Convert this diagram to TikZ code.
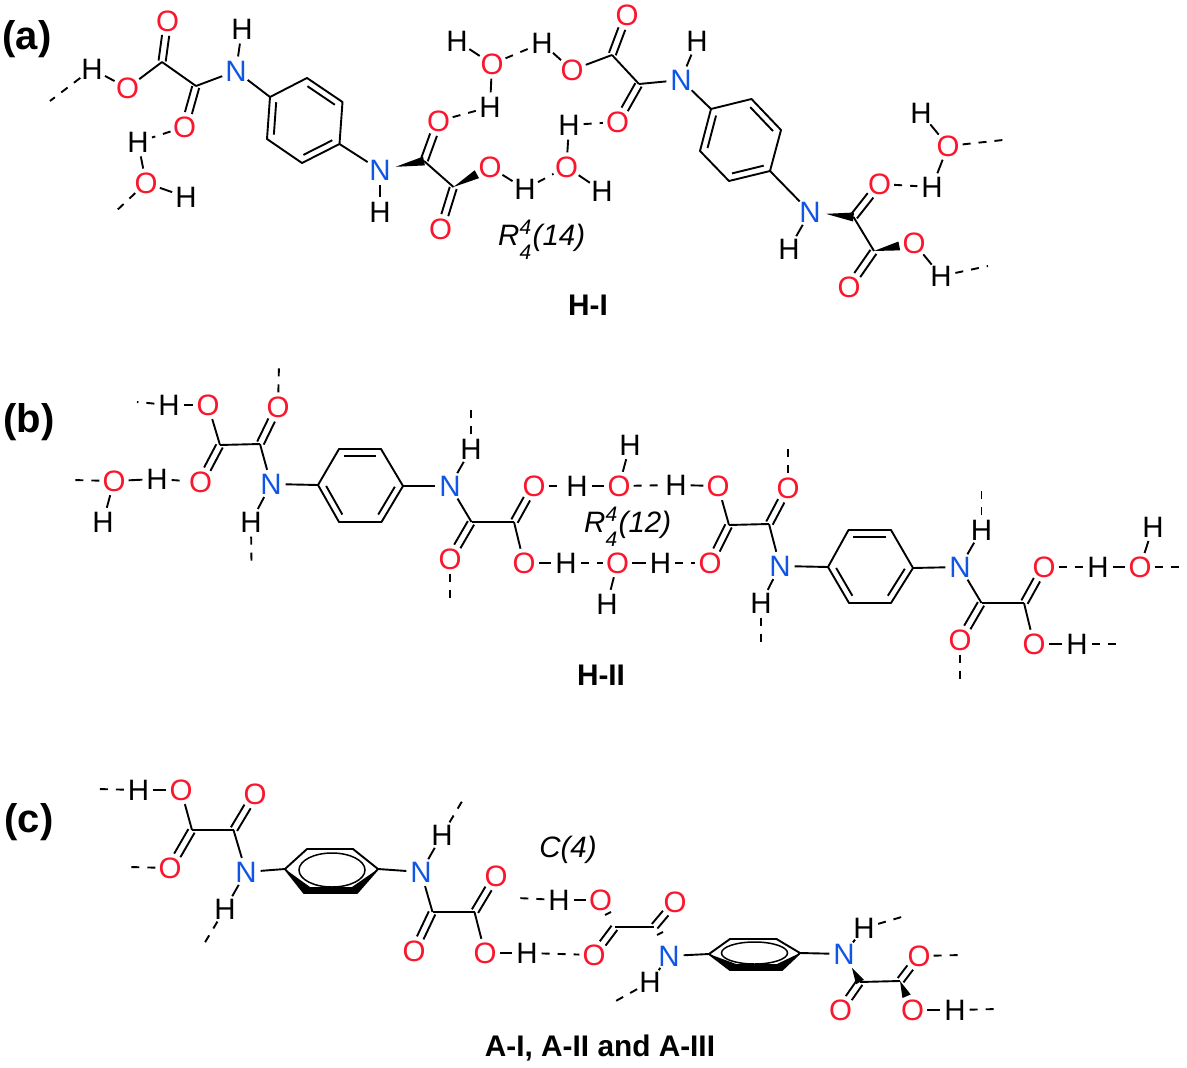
\documentclass[tikz,border=0pt]{standalone}
\usepackage{fontspec}
\setmainfont{Liberation Sans}
\usetikzlibrary{calc}
\definecolor{oxy}{HTML}{FA162D}
\definecolor{nit}{HTML}{0F55E6}
\tikzset{
  atom/.style={circle,inner sep=0pt,minimum size=29pt,text height=21pt,text depth=0pt,font=\fontsize{29.5}{29.5}\selectfont},
  atomO/.style={atom,text=oxy},
  atomN/.style={atom,text=nit},
  atomH/.style={atom,text=black},
  bond/.style={draw=black,line width=1.9pt,line join=round},
  hbond/.style={draw=black,line width=1.9pt,dash pattern=on 8pt off 8pt},
  panel/.style={font=\fontsize{40}{40}\selectfont\bfseries,inner sep=0pt},
  formname/.style={font=\fontsize{29.8}{30}\selectfont\bfseries,inner sep=0pt},
  motif/.style={font=\fontsize{29.5}{30}\selectfont\itshape,inner sep=0pt}
}
\newcommand{\atO}[2]{\node[atomO] (#1) at (#2) {\makebox[0pt]{O}};}
\newcommand{\atH}[2]{\node[atomH] (#1) at (#2) {\makebox[0pt]{H}};}
\newcommand{\atN}[2]{\node[atomN] (#1) at (#2) {\makebox[0pt]{N}};}
\newcommand{\ptc}[2]{\coordinate (#1) at (#2);}
\newcommand{\bd}[2]{\draw[bond] (#1) -- (#2);}
\newcommand{\hbd}[2]{\draw[hbond] (#1) -- (#2);}
\newcommand{\dbl}[2]{%
  \draw[bond,shorten >=14.5pt,shorten <=1pt] ($(#1)!3.6pt!90:(#2)$) -- ($(#2)!3.6pt!-90:(#1)$);
  \draw[bond,shorten >=14.5pt,shorten <=1pt] ($(#1)!3.6pt!-90:(#2)$) -- ($(#2)!3.6pt!90:(#1)$);}
\newcommand{\wdg}[4]{%
  \coordinate (wa) at ($(#1)!#3!(#2)$);
  \coordinate (wb) at ($(#2)!#4!(#1)$);
  \fill[black] (wa) -- ($(wb)!4.5pt!90:(wa)$) -- ($(wb)!4.5pt!-90:(wa)$) -- cycle;}
\newcommand{\benz}[7]{%
  \coordinate (#1a) at (#2);\coordinate (#1b) at (#3);\coordinate (#1c) at (#4);
  \coordinate (#1d) at (#5);\coordinate (#1e) at (#6);\coordinate (#1f) at (#7);
  \coordinate (#1m) at ($(#1a)!0.5!(#1d)$);
  \draw[bond] (#1a) -- (#1b) -- (#1c) -- (#1d) -- (#1e) -- (#1f) -- cycle;
  \draw[bond,shorten >=1pt,shorten <=1pt] ($(#1m)!0.82!(#1b)$) -- ($(#1m)!0.82!(#1c)$);
  \draw[bond,shorten >=1pt,shorten <=1pt] ($(#1m)!0.82!(#1d)$) -- ($(#1m)!0.82!(#1e)$);
  \draw[bond,shorten >=1pt,shorten <=1pt] ($(#1m)!0.82!(#1f)$) -- ($(#1m)!0.82!(#1a)$);}
\newcommand{\flatring}[9]{%
  \coordinate (#1a) at (#2);\coordinate (#1b) at (#3);\coordinate (#1c) at (#4);
  \coordinate (#1d) at (#5);\coordinate (#1e) at (#6);\coordinate (#1f) at (#7);
  \fill[black] (#1a) -- (#1f) -- (#1e) -- (#1d) -- ($(#1e)+(-5,-6)$) -- ($(#1f)+(6,-6)$) -- cycle;
  \draw[bond] (#1a) -- (#1b) -- (#1c) -- (#1d) -- (#1e) -- (#1f) -- cycle;
  \draw[black,line width=1.5pt,fill=white] (#8) ellipse [x radius=33pt,y radius=#9];}
\newcommand{\scrp}[1]{\fontsize{21}{21}\selectfont #1}
\newcommand{\motifR}[1]{R\rlap{\raisebox{11pt}{\scrp{4}}}\raisebox{-14pt}{\scrp{4}}\kern1.5pt #1}
\begin{document}
\begin{tikzpicture}[x=1pt,y=-1pt]
\useasboundingbox (0,0) rectangle (1187,1068);
% ---------- panel a
\node[panel] (la) at (27,39) {(a)};
\ptc{af1}{50,101}\ptc{af2}{113,214}\ptc{af3}{1003,140}\ptc{af4}{988,266}
\atH{aH1}{92,69}\atO{aO1}{127.5,88}\ptc{aC1}{162,62}\atO{aO2}{167.6,21}\ptc{aC2}{196,86}\atO{aO3}{184.5,127}
\atN{aN1}{236,71}\atH{aH2}{242,29}\atH{aH3}{138,142}\atO{aO4}{146,183}\atH{aH4}{186,197}
\benz{ar}{270,97}{307,78}{342.5,102}{339.5,144}{302,163}{267,139}
\atN{aN2}{380,170}\atH{aH5}{380,212}\ptc{aC3}{424,161}\ptc{aC4}{453.5,187}\atO{aO5}{438.5,121}\atO{aO6}{490,167}\atO{aO7}{440.5,229}
\atH{aH6}{525,189}\atO{aO8}{566.5,167}\atH{aH7}{569,125}\atH{aH8}{602,191}
\atH{aH9}{457,41}\atO{aO9}{492,64}\atH{aH10}{490,107}\atH{aH11}{542,43}\atO{aO10}{572,70}
\ptc{aC5}{612,55}\atO{aO11}{627,15}\ptc{aC6}{639,84}\atO{aO12}{617.5,122}\atN{aN3}{681,80}\atH{aH12}{697,41}
\benz{as}{711,109}{751.5,99}{781,130}{770,171}{729,181}{700,151}
\atN{aN4}{810,212}\atH{aH13}{789,249}\ptc{aC7}{853.5,217}\ptc{aC8}{874,251}\atO{aO13}{879.5,184}\atO{aO14}{914,243}\atO{aO15}{849,287}
\atH{aH14}{941,276}\atH{aH15}{932,187}\atO{aO16}{948,146}\atH{aH16}{921,113}
\hbd{aH1}{af1}\bd{aH1}{aO1}\bd{aO1}{aC1}\dbl{aC1}{aO2}\bd{aC1}{aC2}\dbl{aC2}{aO3}\bd{aC2}{aN1}\bd{aN1}{aH2}\bd{aN1}{ara}
\hbd{aO3}{aH3}\bd{aH3}{aO4}\bd{aO4}{aH4}\hbd{aO4}{af2}
\bd{ard}{aN2}\bd{aN2}{aH5}\wdg{aN2}{aC3}{16pt}{0pt}\dbl{aC3}{aO5}\bd{aC3}{aC4}\wdg{aC4}{aO6}{0pt}{15pt}\dbl{aC4}{aO7}
\bd{aO6}{aH6}\hbd{aH6}{aO8}\bd{aO8}{aH7}\bd{aO8}{aH8}\hbd{aH7}{aO12}
\hbd{aH10}{aO5}\bd{aH9}{aO9}\bd{aO9}{aH10}\hbd{aO9}{aH11}\bd{aH11}{aO10}\bd{aO10}{aC5}\dbl{aC5}{aO11}\bd{aC5}{aC6}\dbl{aC6}{aO12}\bd{aC6}{aN3}\bd{aN3}{aH12}\bd{aN3}{asa}
\bd{asd}{aN4}\bd{aN4}{aH13}\wdg{aN4}{aC7}{16pt}{0pt}\dbl{aC7}{aO13}\bd{aC7}{aC8}\wdg{aC8}{aO14}{0pt}{15pt}\dbl{aC8}{aO15}
\bd{aO14}{aH14}\hbd{aH14}{af4}\hbd{aO13}{aH15}\bd{aH15}{aO16}\bd{aO16}{aH16}\hbd{aO16}{af3}
\node[motif,anchor=west] (ra) at (498,240) {\motifR{(14)}};
\node[formname] (nH1) at (588,305) {H-I};
% ---------- panel b
\node[panel] (lb) at (29,422) {(b)};
\ptc{bf1}{137,402}\ptc{bf2}{279,364}\ptc{bf3}{251.5,563}\ptc{bf4}{72,480}\ptc{bf5}{471,407}\ptc{bf6}{450,601}
\ptc{bf7}{788,445}\ptc{bf8}{761,644}\ptc{bf9}{981.5,487}\ptc{bf10}{960,682}\ptc{bf11}{1120,644}\ptc{bf12}{1183,567}
\atH{bH1}{169,405}\atO{bO1}{208,405}\atO{bO2}{278,407}\ptc{bC1}{220,445}\ptc{bC2}{260,444}\atO{bO3}{200.5,482}\atN{bN1}{271,484}\atH{bH2}{251,522}
\atH{bH3}{157,479}\atO{bO4}{114,481}\atH{bH4}{103,522}
\benz{br}{318,485}{339,449}{381,449}{403,486}{381.5,522}{339,522}
\atN{bN2}{450,486}\atH{bH5}{471,449}\ptc{bC3}{471.5,522}\ptc{bC4}{514,522}\atO{bO5}{534,486}\atO{bO6}{450,559}\atO{bO7}{524,563}\atH{bH6}{566,563}\atH{bH7}{577,486}
\atO{bO8}{619,486}\atH{bH8}{630,445}\atH{bH9}{676,485}\atO{bO9}{718,486}\atO{bO10}{788,488}\ptc{bC5}{729,525}\ptc{bC6}{769,524}\atO{bO11}{710,563}\atN{bN3}{780,566}\atH{bH10}{761,603}
\atO{bO12}{617.5,563}\atH{bH11}{660.5,563}\atH{bH12}{607,604}
\benz{bs}{828,567}{848.5,530}{891,530}{913,568}{891,603}{849,603}
\atN{bN4}{960,567}\atH{bH13}{981.5,530}\ptc{bC7}{981.5,603}\ptc{bC8}{1024,603}\atO{bO13}{1044,567}\atO{bO14}{960,640}\atO{bO15}{1034,644}\atH{bH14}{1077,644}\atH{bH15}{1098,567}\atO{bO16}{1140,567}\atH{bH16}{1153,527}
\hbd{bH1}{bf1}\bd{bH1}{bO1}\bd{bO1}{bC1}\dbl{bC1}{bO3}\bd{bC1}{bC2}\dbl{bC2}{bO2}\hbd{bO2}{bf2}\bd{bC2}{bN1}\bd{bN1}{bH2}\hbd{bH2}{bf3}\bd{bN1}{bra}
\hbd{bO4}{bf4}\bd{bO4}{bH3}\hbd{bH3}{bO3}\bd{bO4}{bH4}
\bd{brd}{bN2}\bd{bN2}{bH5}\hbd{bH5}{bf5}\bd{bN2}{bC3}\dbl{bC3}{bO6}\hbd{bO6}{bf6}\bd{bC3}{bC4}\dbl{bC4}{bO5}\bd{bC4}{bO7}
\hbd{bO5}{bH7}\bd{bH7}{bO8}\bd{bO8}{bH8}\hbd{bO8}{bH9}\bd{bH9}{bO9}\bd{bO9}{bC5}\dbl{bC5}{bO11}\bd{bC5}{bC6}\dbl{bC6}{bO10}\hbd{bO10}{bf7}\bd{bC6}{bN3}\bd{bN3}{bH10}\hbd{bH10}{bf8}\bd{bN3}{bsa}
\bd{bO7}{bH6}\hbd{bH6}{bO12}\bd{bO12}{bH11}\hbd{bH11}{bO11}\bd{bO12}{bH12}
\bd{bsd}{bN4}\bd{bN4}{bH13}\hbd{bH13}{bf9}\bd{bN4}{bC7}\dbl{bC7}{bO14}\hbd{bO14}{bf10}\bd{bC7}{bC8}\dbl{bC8}{bO13}\bd{bC8}{bO15}\bd{bO15}{bH14}\hbd{bH14}{bf11}
\hbd{bO13}{bH15}\bd{bH15}{bO16}\bd{bO16}{bH16}\hbd{bO16}{bf12}
\node[motif,anchor=west] (rb) at (584,527) {\motifR{(12)}};
\node[formname] (nH2) at (601,675) {H-II};
% ---------- panel c
\node[panel] (lc) at (29,822) {(c)};
\ptc{cf1}{97,789}\ptc{cf2}{129,867}\ptc{cf3}{204,944}\ptc{cf4}{464,798}\ptc{cf5}{517,898}\ptc{cf6}{614,1002}\ptc{cf7}{905,916}\ptc{cf8}{962,955}\ptc{cf9}{998,1009}
\atH{cH1}{138.5,790}\atO{cO1}{181,790}\atO{cO2}{255,794}\ptc{cC1}{192,830}\ptc{cC2}{233.5,830}\atO{cO3}{170,868}\atN{cN1}{246,872}\atH{cH2}{225,909}
\flatring{cr}{285,869}{307,849}{353,849}{378,869}{357,893}{304,893}{332,870}{17pt}
\atN{cN2}{421,872}\atH{cH3}{442,835}\ptc{cC3}{432.5,912}\ptc{cC4}{474.5,912}\atO{cO4}{496,876}\atO{cO5}{414,951}\atO{cO6}{485,953}\atH{cH4}{527,953}
\atH{cH5}{559,900}\atO{cO7}{600.5,900}\atO{cO8}{594,955}\ptc{cC5}{615,927}\ptc{cC6}{654,927}\atO{cO9}{675,902}\atN{cN3}{669,956}\atH{cH6}{650,982}
\ptc{ct1}{605,915}\ptc{ct2}{611,912}\ptc{ct3}{657,935}\ptc{ct4}{663,932}
\flatring{cs}{709,954}{730,939}{776.5,939}{800,953}{782,970}{730,970}{754.5,953}{11pt}
\atN{cN4}{844,954}\atH{cH7}{864,928}\ptc{cC7}{860,982}\ptc{cC8}{900,981}\atO{cO10}{919,956}\atO{cO11}{840.5,1010}\atO{cO12}{912.5,1010}\atH{cH8}{955,1010}
\hbd{cH1}{cf1}\bd{cH1}{cO1}\bd{cO1}{cC1}\dbl{cC1}{cO3}\hbd{cO3}{cf2}\bd{cC1}{cC2}\dbl{cC2}{cO2}\bd{cC2}{cN1}\bd{cN1}{cH2}\hbd{cH2}{cf3}\bd{cN1}{cra}
\bd{crd}{cN2}\bd{cN2}{cH3}\hbd{cH3}{cf4}\bd{cN2}{cC3}\dbl{cC3}{cO5}\bd{cC3}{cC4}\dbl{cC4}{cO4}\bd{cC4}{cO6}\bd{cO6}{cH4}\hbd{cH4}{cO8}
\hbd{cH5}{cf5}\bd{cH5}{cO7}\bd{ct1}{ct2}\dbl{cC5}{cO8}\bd{cC5}{cC6}\dbl{cC6}{cO9}\bd{ct3}{ct4}\bd{cN3}{cH6}\hbd{cH6}{cf6}\bd{cN3}{csa}
\bd{csd}{cN4}\bd{cN4}{cH7}\hbd{cH7}{cf7}\wdg{cN4}{cC7}{16pt}{0pt}\dbl{cC7}{cO11}\bd{cC7}{cC8}\dbl{cC8}{cO10}\hbd{cO10}{cf8}\wdg{cC8}{cO12}{0pt}{15pt}\bd{cO12}{cH8}\hbd{cH8}{cf9}
\node[motif] (rc) at (568,850) {C(4)};
\node[formname] (nA) at (600,1048) {A-I, A-II and A-III};
\end{tikzpicture}
\end{document}
